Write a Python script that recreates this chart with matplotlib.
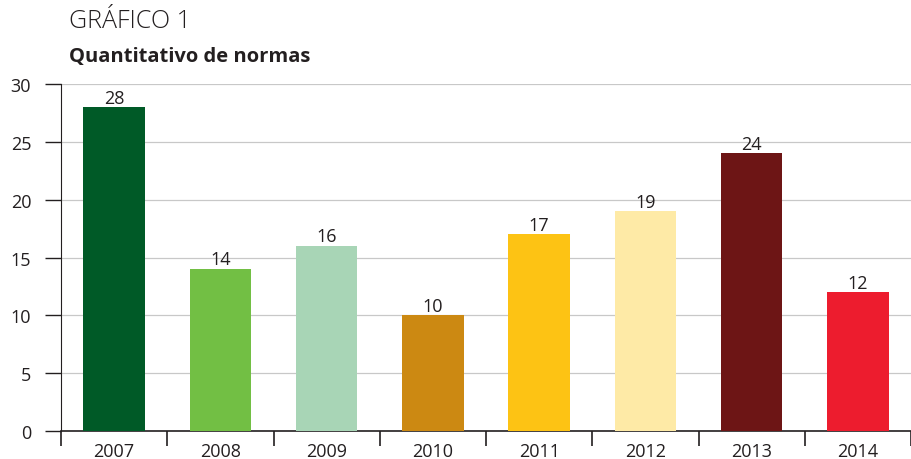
import numpy as np
import matplotlib.pyplot as plt

years = ['2007', '2008', '2009', '2010', '2011', '2012', '2013', '2014']
normas = [28, 14, 16, 10, 17, 19, 24, 12]
bar_colors = ['#005a27', '#72bf44', '#a8d5b6', '#cc8912', '#fdc314',
              '#feeaa6', '#6d1515', '#ed1c2e']

plt.rcParams['font.family'] = ['Open Sans', 'DejaVu Sans']

fig = plt.figure(figsize=(9.11, 4.60), dpi=100)
ax = fig.add_axes([61 / 911, 28 / 460, 850 / 911, 347 / 460])

x = np.arange(len(years))
bars = ax.bar(x, normas, width=0.58, color=bar_colors, zorder=3)
for b, v in zip(bars, normas):
    ax.text(b.get_x() + b.get_width() / 2, v + 0.05, str(v), ha='center',
            va='bottom', fontsize=13, color='#231f20')

ax.set_xlim(-0.5, len(years) - 0.5)
ax.set_ylim(0, 30)
ax.set_yticks(range(0, 31, 5))
ax.yaxis.grid(True, color='#c8c8c8', linewidth=0.9, zorder=0)
ax.set_axisbelow(True)

ax.set_xticks(x)
ax.set_xticklabels(years)
ax.set_xticks(np.arange(-0.5, len(years)), minor=True)
ax.tick_params(axis='x', which='major', length=0, pad=8, labelsize=13, labelcolor='#231f20')
ax.tick_params(axis='x', which='minor', length=11, width=1.2, color='#231f20')
ax.tick_params(axis='y', length=11.5, width=1.0, color='#231f20', pad=10,
               labelsize=13, labelcolor='#231f20')

for s in ['top', 'right']:
    ax.spines[s].set_visible(False)
ax.spines['left'].set_color('#231f20')
ax.spines['bottom'].set_color('#231f20')
ax.spines['bottom'].set_linewidth(1.2)

fig.text(69 / 911, 1 - 22 / 460, 'GRÁFICO 1', fontsize=18, fontweight='light',
         color='#231f20', va='center', ha='left')
fig.text(69 / 911, 1 - 57 / 460, 'Quantitativo de normas', fontsize=14.5,
         fontweight='bold', color='#231f20', va='center', ha='left')

fig.savefig('out.png', dpi=100)
plt.close()
